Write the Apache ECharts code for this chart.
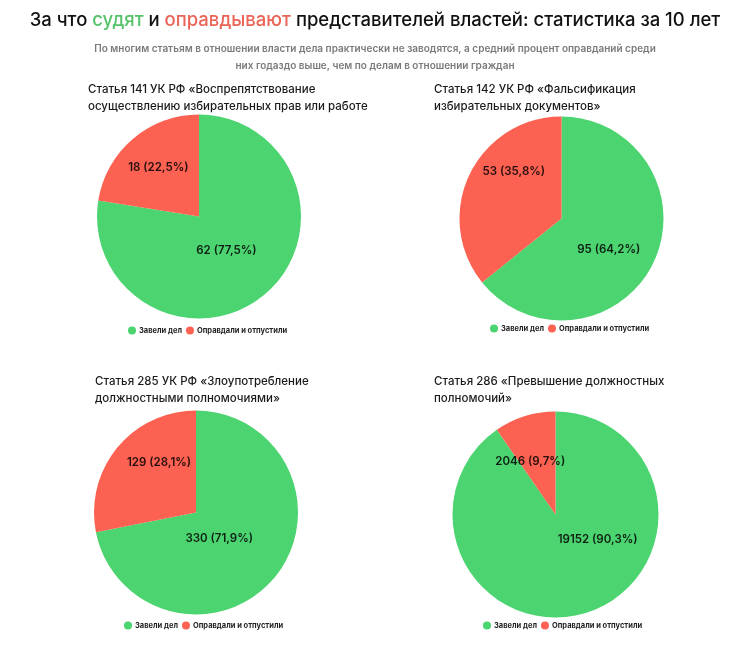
<!DOCTYPE html>
<html><head><meta charset="utf-8">
<script src="https://cdn.jsdelivr.net/npm/echarts@6/dist/echarts.min.js"></script>
<style>html,body{margin:0;padding:0;background:#fff}#c{width:750px;height:647px}</style>
</head><body><div id="c"></div>
<script>
// ---- data ----
const categories = ['Завели дел', 'Оправдали и отпустили'];
const chartTitles = [
  'Статья 141 УК РФ «Воспрепятствование\nосуществлению избирательных прав или работе',
  'Статья 142 УК РФ «Фальсификация\nизбирательных документов»',
  'Статья 285 УК РФ «Злоупотребление\nдолжностными полномочиями»',
  'Статья 286 «Превышение должностных\nполномочий»'
];
const filed = [62, 95, 330, 19152];
const acquitted = [18, 53, 129, 2046];
const subTitleLines = [
  'По многим статьям в отношении власти дела практически не заводятся, а средний процент оправданий среди',
  'них годаздо выше, чем по делам в отношении граждан'
];

// ---- layout / style ----
const GREEN = '#4cd470', RED = '#fc6151';
const FONT = 'Inter, "Noto Sans", sans-serif';
const layout = [
  {center: [199, 216.5], r: 102, tl: 88, tt: 81.5, ll: 128, lt: 326.5, nudge: [[-3, -2], [3, 2]]},
  {center: [561.5, 218.5], r: 102, tl: 434, tt: 81.5, ll: 490, lt: 324.5, nudge: [[5, 11], [13, -18]]},
  {center: [196, 512.5], r: 102, tl: 95, tt: 373, ll: 124, lt: 621.5, nudge: [[-13, -4], [15, -7]]},
  {center: [555.5, 514.5], r: 103, tl: 434, tt: 373.5, ll: 483, lt: 621.5, nudge: [[28, -20], [-5, 12]]}
];

const fmt = p => p.value + ' (' + p.percent.toFixed(1).replace('.', ',') + '%)';
const titles = [
  {text: '{a|За что }{g|судят}{a| и }{r|оправдывают}{a| представителей властей: статистика за 10 лет}',
   left: 'center', top: 11, padding: 0,
   textStyle: {rich: {
     a: {fontFamily: FONT, fontSize: 18.5, fontWeight: 500, color: '#111'},
     g: {fontFamily: FONT, fontSize: 18.5, fontWeight: 500, color: '#55c36a'},
     r: {fontFamily: FONT, fontSize: 18.5, fontWeight: 500, color: '#ea6457'}
   }}}
];
subTitleLines.forEach((t, i) => titles.push({text: t, left: 'center', top: 44 + i * 17, padding: 0,
  textStyle: {fontFamily: FONT, fontSize: 10, fontWeight: 600, color: '#7a7a7a'}}));
const legends = [];
const series = [];
layout.forEach((L, i) => {
  titles.push({text: chartTitles[i], left: L.tl, top: L.tt, padding: 0,
    textStyle: {fontFamily: FONT, fontSize: 11.5, fontWeight: 500, color: '#1a1a1a', lineHeight: 17}});
  legends.push({left: L.ll, top: L.lt, padding: 0, itemGap: 4, itemWidth: 8, itemHeight: 8, icon: 'circle',
    data: [{name: categories[0], itemStyle: {color: GREEN}}, {name: categories[1], itemStyle: {color: RED}}],
    textStyle: {fontFamily: FONT, fontSize: 7.5, fontWeight: 700, color: '#222', padding: [0, 0, 0, -2]},
    selectedMode: false});
  const data = [
    {name: categories[0], value: filed[i], itemStyle: {color: GREEN}},
    {name: categories[1], value: acquitted[i], itemStyle: {color: RED}}
  ];
  series.push({type: 'pie', center: L.center, radius: [0, L.r], startAngle: 90, clockwise: true,
    label: {show: false}, labelLine: {show: false}, data: data, animation: false, silent: true});
  // transparent label carriers so labels sit at chosen radial distances
  const rings = [[0, 0.86], [0.26, 1.0]];
  [0, 1].forEach(k => {
    series.push({type: 'pie', center: L.center, radius: [rings[k][0] * L.r, rings[k][1] * L.r],
      startAngle: 90, clockwise: true, silent: true, animation: false, percentPrecision: 4,
      itemStyle: {color: 'rgba(0,0,0,0)'}, labelLine: {show: false},
      label: {show: true, position: 'inside', formatter: fmt, fontFamily: FONT, fontSize: 11.5, fontWeight: 600,
        color: 'rgba(0,0,0,0.85)'},
      labelLayout: p => ({dx: L.nudge[p.dataIndex][0], dy: L.nudge[p.dataIndex][1]}),
      data: data.map((d, j) => ({name: '_' + d.name, value: d.value,
        itemStyle: {color: 'rgba(0,0,0,0)'}, label: {show: j === k}}))
    });
  });
});

const chart = echarts.init(document.getElementById('c'), null, {renderer: 'canvas'});
chart.setOption({backgroundColor: '#fff', animation: false, title: titles, legend: legends, series: series});
</script></body></html>
